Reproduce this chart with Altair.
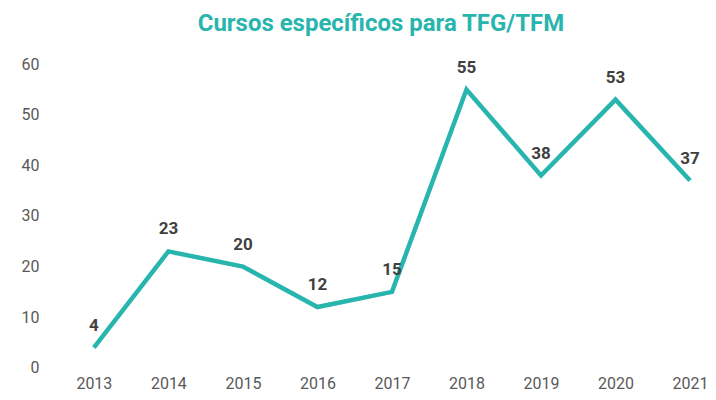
import altair as alt
import pandas as pd

years = [2013, 2014, 2015, 2016, 2017, 2018, 2019, 2020, 2021]
values = [4, 23, 20, 12, 15, 55, 38, 53, 37]

df = pd.DataFrame({"year": years, "value": values})

teal = "#27B5AE"

base = alt.Chart(df).encode(
    x=alt.X("year:Q",
            scale=alt.Scale(domain=[2013, 2021], nice=False, zero=False),
            axis=alt.Axis(values=years, format="d", title=None, domain=False,
                          ticks=False, grid=False, labelFont="Roboto",
                          labelFontSize=16, labelColor="#595959",
                          labelPadding=8, labelFlush=False)),
    y=alt.Y("value:Q",
            scale=alt.Scale(domain=[0, 60], nice=False),
            axis=alt.Axis(values=[0, 10, 20, 30, 40, 50, 60], title=None,
                          domain=False, ticks=False, grid=False,
                          labelFont="Roboto", labelFontSize=16,
                          labelColor="#595959", labelPadding=55)),
)

line = base.mark_line(color=teal, strokeWidth=4.5)
labels = base.mark_text(font="Roboto", fontSize=17, fontWeight="bold",
                        color="#404040", dy=-22, baseline="middle").encode(
    text="value:Q")

chart = (line + labels).properties(
    width=597, height=304,
    title=alt.TitleParams("Cursos específicos para TFG/TFM", font="Roboto",
                          fontSize=24, fontWeight="bold", color=teal,
                          anchor="middle", dx=-11, offset=20),
    autosize=alt.AutoSizeParams(type="none"),
    padding={"left": 86, "top": 56, "right": 18, "bottom": 26},
).configure_view(stroke=None)

chart.save("out.html", embed_options={"renderer": "svg", "actions": False})
